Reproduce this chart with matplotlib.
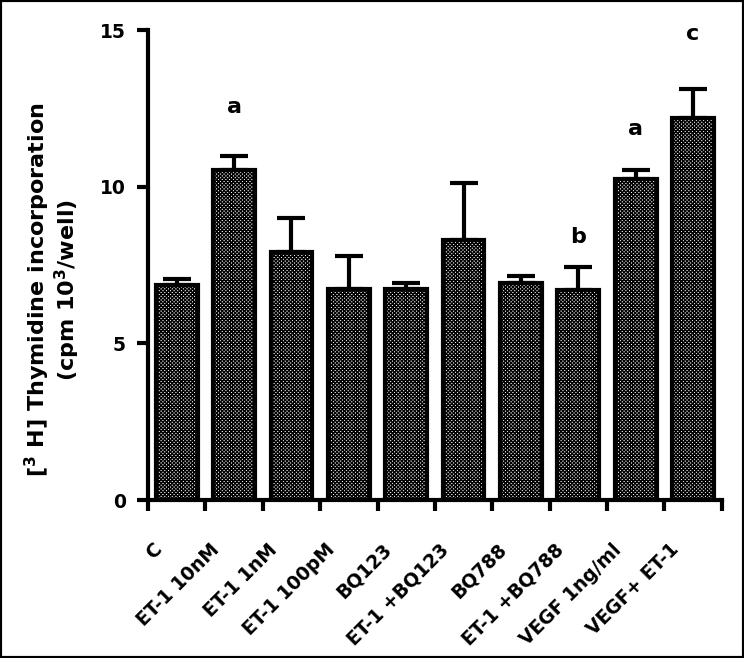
import matplotlib
matplotlib.use('Agg')
import matplotlib.pyplot as plt
from matplotlib.patches import Rectangle
from matplotlib.transforms import ScaledTranslation

# group labels, means and upper error (SEM)
groups = ['C', 'ET-1 10nM', 'ET-1 1nM', 'ET-1 100pM', 'BQ123', 'ET-1 +BQ123',
          'BQ788', 'ET-1 +BQ788', 'VEGF 1ng/ml', 'VEGF+ ET-1']
means = [6.88, 10.54, 7.93, 6.75, 6.75, 8.29, 6.92, 6.72, 10.25, 12.21]
errors = [0.19, 0.46, 1.07, 1.03, 0.17, 1.82, 0.22, 0.73, 0.29, 0.93]
letters = ['', 'a', '', '', '', '', '', 'b', 'a', 'c']
letter_y = [0, 12.55, 0, 0, 0, 0, 0, 8.4, 11.84, 14.87]

plt.rcParams['font.family'] = ['DejaVu Sans']
plt.rcParams['font.weight'] = 'bold'
plt.rcParams['hatch.linewidth'] = 1.0

fig = plt.figure(figsize=(7.44, 6.58), dpi=100)
ax = fig.add_axes([0.199, 0.240, 0.771, 0.714])

x = [i + 0.5 for i in range(len(groups))]
ax.bar(x, means, width=0.73, color='white', edgecolor='black', linewidth=3,
       hatch='x' * 9, zorder=2)
ax.errorbar(x, means, yerr=[[0] * len(errors), errors], fmt='none',
            ecolor='black', elinewidth=3, capsize=10, capthick=3, zorder=1)

for xi, lab, ly in zip(x, letters, letter_y):
    if lab:
        ax.text(xi, ly, lab, ha='center', va='center', fontsize=16,
                fontweight='bold')

ax.set_xlim(0, 10)
ax.set_ylim(0, 15)
ax.set_yticks([0, 5, 10, 15])
ax.set_xticks(range(11))
ax.set_xticklabels([])
ax.tick_params(axis='x', which='major', length=8, width=3, direction='out')
ax.tick_params(axis='y', length=8, width=3, direction='out', labelsize=13.5,
               pad=8)
for t in ax.get_yticklabels():
    t.set_fontweight('bold')

# category labels, set diagonally below and a bit left of each bar
shift = ScaledTranslation(-0.24, -0.40, fig.dpi_scale_trans)
for xi, g in zip(x, groups):
    ax.text(xi, 0, g, transform=ax.get_xaxis_transform() + shift,
            rotation=45, ha='right', va='top', rotation_mode='anchor',
            fontsize=13.5, fontweight='bold')

for s in ['top', 'right']:
    ax.spines[s].set_visible(False)
for s in ['left', 'bottom']:
    ax.spines[s].set_linewidth(3)

ax.set_ylabel('[$^3$ H] Thymidine incorporation\n(cpm 10$^3$/well)',
              fontsize=16, fontweight='bold', linespacing=1.05)
ax.yaxis.set_label_coords(-0.115, 0.447)

fig.patches.append(Rectangle((0, 0), 1, 1, transform=fig.transFigure,
                             fill=False, edgecolor='black', linewidth=3))

fig.savefig('out.png', dpi=100)
